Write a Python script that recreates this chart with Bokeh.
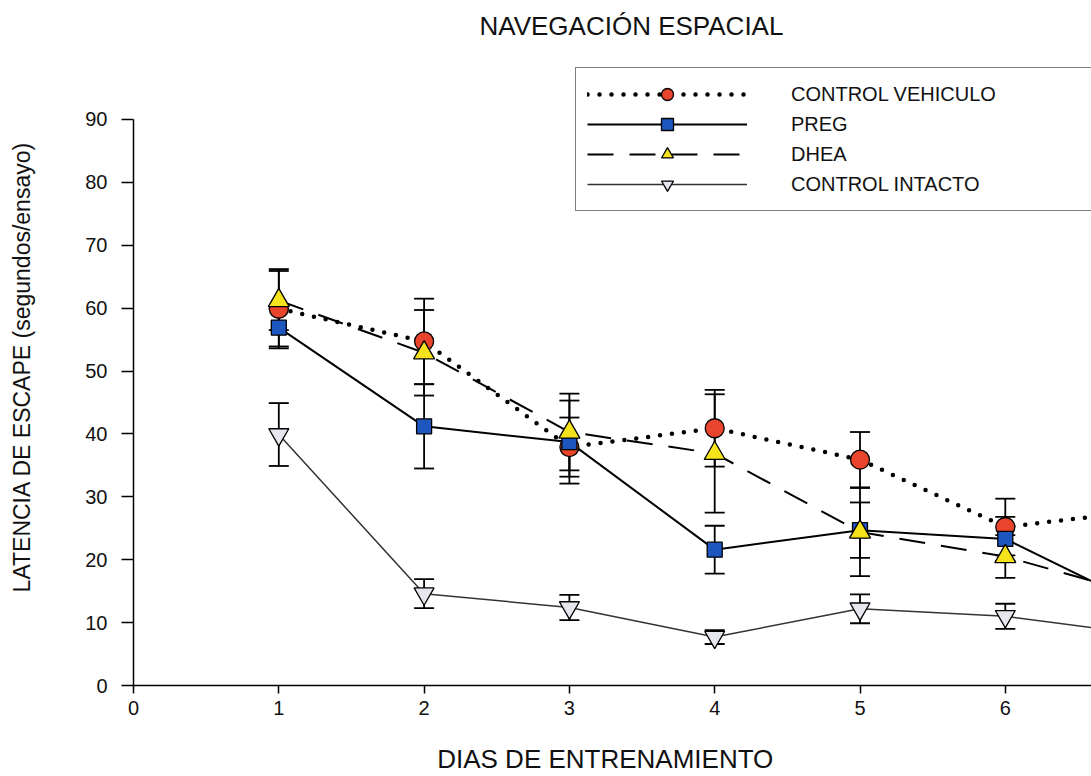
from bokeh.plotting import figure
from bokeh.models import (ColumnDataSource, Whisker, TeeHead, Legend, LegendItem,
                          FixedTicker, Range1d)
from bokeh.embed import file_html
from bokeh.resources import INLINE

# ---------------- data ----------------
dias = [1, 2, 3, 4, 5, 6, 7]
dias_ee = [1, 2, 3, 4, 5, 6]
control_vehiculo = [59.9, 54.7, 37.9, 40.9, 35.9, 25.2, 27.9]
control_vehiculo_ee = [6.3, 6.8, 4.7, 6.1, 4.4, 4.5]
preg = [56.9, 41.2, 38.7, 21.6, 24.7, 23.3, 12.0]
preg_ee = [3.0, 6.7, 6.6, 3.8, 4.4, 3.5]
dhea = [61.2, 52.9, 40.3, 36.9, 24.4, 20.5, 14.0]
dhea_ee = [4.7, 6.8, 6.1, 9.4, 7.0, 3.4]
control_intacto = [39.9, 14.6, 12.4, 7.7, 12.2, 11.0, 8.0]
control_intacto_ee = [5.0, 2.3, 2.0, 1.1, 2.3, 2.0]

y_ticks = [0, 10, 20, 30, 40, 50, 60, 70, 80, 90]
x_ticks = [0, 1, 2, 3, 4, 5, 6, 7]

titulo = "NAVEGACIÓN ESPACIAL"
eje_x = "DIAS  DE  ENTRENAMIENTO"
eje_y = "LATENCIA DE ESCAPE (segundos/ensayo)"

# ---------------- layout ----------------
W, H = 1091, 776
MBL, MBR, MBT, MBB = 133, 0, 48, 91
X_PX = 145.3   # pixels per day
Y_PX = 6.29    # pixels per second
frame_w = W - MBL - MBR
frame_h = H - MBT - MBB
FONT = "Liberation Sans"

p = figure(width=W, height=H, output_backend="svg", toolbar_location=None,
           x_range=Range1d(0, frame_w / X_PX), y_range=Range1d(0, frame_h / Y_PX),
           min_border_left=MBL, min_border_right=MBR, min_border_top=MBT,
           min_border_bottom=MBB, background_fill_color="white",
           border_fill_color="white", outline_line_color=None)
p.grid.visible = False

# title
p.title.text = titulo
p.title.text_font = FONT
p.title.text_font_size = "26px"
p.title.text_font_style = "normal"
p.title.text_color = "#111111"
p.title.align = "left"
p.title.vertical_align = "top"
p.title.offset = 346
p.title.standoff = 12

# axes
for ax in (p.xaxis[0], p.yaxis[0]):
    ax.axis_line_color = "black"
    ax.axis_line_width = 1.5
    ax.major_tick_line_color = "black"
    ax.major_tick_line_width = 1.5
    ax.major_tick_in = 0
    ax.minor_tick_line_color = None
    ax.axis_label_text_font = FONT
    ax.axis_label_text_font_style = "normal"
    ax.axis_label_text_color = "#111111"
    ax.major_label_text_font = FONT
    ax.major_label_text_color = "#111111"

p.yaxis.ticker = FixedTicker(ticks=y_ticks)
p.yaxis.bounds = (0, 90)
p.yaxis.major_tick_out = 12
p.yaxis.major_label_standoff = 14
p.yaxis.major_label_text_font_size = "20px"
p.yaxis.axis_label = eje_y
p.yaxis.axis_label_text_font_size = "23px"
p.yaxis.axis_label_standoff = 47

p.xaxis.ticker = FixedTicker(ticks=x_ticks)
p.xaxis.major_tick_out = 8
p.xaxis.major_label_standoff = 7
p.xaxis.major_label_text_font_size = "20px"
p.xaxis.axis_label = eje_x
p.xaxis.axis_label_text_font_size = "26px"
p.xaxis.axis_label_standoff = 26

# ---------------- series ----------------
series = [
    dict(label="CONTROL VEHICULO", y=control_vehiculo, e=control_vehiculo_ee,
         marker="circle", size=19, fill="#e8452c",
         line=dict(line_color="black", line_width=4.5, line_dash="0 12", line_cap="round")),
    dict(label="PREG", y=preg, e=preg_ee, marker="square", size=15, fill="#1e56c0",
         line=dict(line_color="black", line_width=2)),
    dict(label="DHEA", y=dhea, e=dhea_ee, marker="triangle", size=21, fill="#f6e31c",
         line=dict(line_color="black", line_width=2, line_dash="26 16")),
    dict(label="CONTROL INTACTO", y=control_intacto, e=control_intacto_ee,
         marker="inverted_triangle", size=20, fill="#e6e6ee",
         line=dict(line_color="#333333", line_width=1.5)),
]

# error bars first (under everything)
for s in series:
    ee_src = ColumnDataSource(dict(
        x=dias_ee,
        upper=[v + e for v, e in zip(s["y"][:6], s["e"])],
        lower=[v - e for v, e in zip(s["y"][:6], s["e"])]))
    w = Whisker(base="x", upper="upper", lower="lower", source=ee_src,
                line_color="black", line_width=1.8,
                upper_head=TeeHead(size=20, line_color="black", line_width=1.8),
                lower_head=TeeHead(size=20, line_color="black", line_width=1.8))
    p.add_layout(w)

line_r = {}
for s in reversed(series):
    line_r[s["label"]] = p.line(dias, s["y"], **s["line"])

mark_r = {}
draw_order = [series[3], series[0], series[1], series[2]]
for s in draw_order:
    mark_r[s["label"]] = p.scatter(dias, s["y"], marker=s["marker"], size=s["size"],
                                   fill_color=s["fill"], line_color="black", line_width=1.3)

items = [LegendItem(label=s["label"], renderers=[line_r[s["label"]], mark_r[s["label"]]])
         for s in series]
legend = Legend(items=items, location=(442, 474),
                glyph_width=160, glyph_height=30, spacing=0, padding=11,
                label_standoff=44, label_width=300,
                label_text_font=FONT, label_text_font_size="20px",
                label_text_color="#111111",
                border_line_color="black", border_line_width=1.5,
                background_fill_color="white", background_fill_alpha=1.0)
p.add_layout(legend)

open("out.html", "w").write(file_html(p, INLINE))
